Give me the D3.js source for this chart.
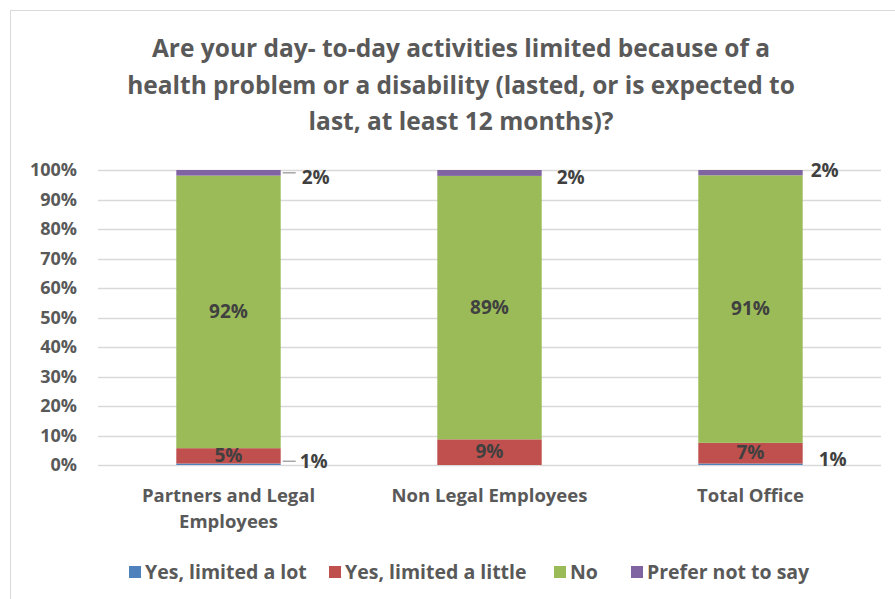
<!DOCTYPE html>
<html>
<head>
<meta charset="utf-8">
<script src="https://cdn.jsdelivr.net/npm/d3@7"></script>
<style>
  body { margin: 0; background: #fff; }
  svg text { font-family: "Open Sans", sans-serif; font-weight: bold; }
</style>
</head>
<body>
<div class="chart"></div>
<script>
var categories = ["Partners and Legal Employees", "Non Legal Employees", "Total Office"];
var seriesNames = ["Yes, limited a lot", "Yes, limited a little", "No", "Prefer not to say"];
var seriesColors = ["#4f81bd", "#c0504d", "#9bbb59", "#8064a2"];
// percent per category, one array per series
var limitedLot = [0.5, 0, 0.5];
var limitedLittle = [5.2, 8.7, 7.0];
var noLimit = [92.4, 89.3, 90.7];
var preferNot = [1.9, 2.0, 1.8];
var yTicks = [0, 10, 20, 30, 40, 50, 60, 70, 80, 90, 100];
var titleLines = ["Are your day- to-day activities limited because of a",
                  "health problem or a disability (lasted, or is expected to",
                  "last, at least 12 months)?"];

var width = 895, height = 599;
var margin = {top: 170, right: 14, bottom: 134, left: 98};

var svg = d3.select(".chart").append("svg")
    .attr("width", width)
    .attr("height", height);

// chart border
svg.append("rect")
    .attr("x", 10.5).attr("y", 10.5)
    .attr("width", width + 20).attr("height", height + 20)
    .attr("fill", "none").attr("stroke", "#d9d9d9");

svg.selectAll(".title")
    .data(titleLines)
    .enter().append("text")
    .attr("x", 461)
    .attr("y", function(d, i) { return 57 + i * 36.5; })
    .attr("text-anchor", "middle")
    .attr("font-size", 24.5)
    .attr("fill", "#595959")
    .text(function(d) { return d; });

var x = d3.scaleBand()
    .domain(categories)
    .range([margin.left, width - margin.right])
    .paddingInner(0.6)
    .paddingOuter(0.3);

var y = d3.scaleLinear()
    .domain([0, 100])
    .range([height - margin.bottom, margin.top]);

// gridlines
svg.append("g")
    .selectAll("line")
    .data(yTicks)
    .enter().append("line")
    .attr("x1", margin.left).attr("x2", width - margin.right)
    .attr("y1", function(d) { return Math.round(y(d)) + 0.5; })
    .attr("y2", function(d) { return Math.round(y(d)) + 0.5; })
    .attr("stroke", "#d9d9d9")
    .attr("stroke-width", 1.5);

var yAxis = svg.append("g")
    .attr("transform", "translate(" + margin.left + ",0)")
    .call(d3.axisLeft(y).tickValues(yTicks).tickSize(0).tickPadding(21)
        .tickFormat(function(d) { return d + "%"; }));
yAxis.select(".domain").remove();
yAxis.selectAll("text").attr("font-size", 18).attr("fill", "#595959")
    .style("font-family", "'Open Sans', sans-serif");

var seriesValues = [limitedLot, limitedLittle, noLimit, preferNot];
var rows = categories.map(function(c, i) {
    var r = {cat: c};
    seriesNames.forEach(function(s, j) { r[s] = seriesValues[j][i]; });
    return r;
});
var stacked = d3.stack().keys(seriesNames)(rows);

var layers = svg.selectAll(".layer")
    .data(stacked)
    .enter().append("g")
    .attr("fill", function(d, i) { return seriesColors[i]; });

layers.selectAll("rect")
    .data(function(d) { return d; })
    .enter().append("rect")
    .attr("x", function(d) { return x(d.data.cat); })
    .attr("width", x.bandwidth())
    .attr("y", function(d) { return y(d[1]); })
    .attr("height", function(d) { return y(d[0]) - y(d[1]); });

// outside label offsets per category (dx from bar right, dy from segment middle)
var outsideTop = [[21, 11], [15, 11], [8, 4]];
var outsideBottom = [[19, 4], [0, 0], [16, 2]];

var labels = [];
stacked.forEach(function(layer, si) {
    layer.forEach(function(d, ci) {
        var v = d[1] - d[0];
        if (v <= 0) return;
        var cx = x(d.data.cat) + x.bandwidth() / 2;
        var right = x(d.data.cat) + x.bandwidth();
        var mid = y((d[0] + d[1]) / 2);
        var t = Math.round(v) + "%";
        if (si === 1 || si === 2) {
            labels.push({x: cx, y: mid + 6, t: t, anchor: "middle"});
        } else {
            var o = si === 3 ? outsideTop[ci] : outsideBottom[ci];
            var lead = ci === 0 ? [right + 2, si === 3 ? mid : mid - 3, right + 15] : null;
            labels.push({x: right + o[0], y: mid + o[1], t: t, anchor: "start", leader: lead});
        }
    });
});

svg.selectAll(".leader")
    .data(labels.filter(function(d) { return d.leader; }))
    .enter().append("line")
    .attr("x1", function(d) { return d.leader[0]; })
    .attr("x2", function(d) { return d.leader[2]; })
    .attr("y1", function(d) { return d.leader[1]; })
    .attr("y2", function(d) { return d.leader[1]; })
    .attr("stroke", "#a6a6a6").attr("stroke-width", 1.5);

svg.selectAll(".dlabel")
    .data(labels)
    .enter().append("text")
    .attr("x", function(d) { return d.x; })
    .attr("y", function(d) { return d.y; })
    .attr("text-anchor", function(d) { return d.anchor; })
    .attr("font-size", 19)
    .attr("fill", "#404040")
    .text(function(d) { return d.t; });

// category labels, wrapped like the original
var catLines = {"Partners and Legal Employees": ["Partners and Legal", "Employees"]};
categories.forEach(function(c) {
    var lines = catLines[c] || [c];
    lines.forEach(function(l, i) {
        svg.append("text")
            .attr("x", x(c) + x.bandwidth() / 2)
            .attr("y", 502 + i * 26)
            .attr("text-anchor", "middle")
            .attr("font-size", 18.5)
            .attr("fill", "#595959")
            .text(l);
    });
});

// legend
var legendX = [129, 329, 554, 631];
var legend = svg.selectAll(".legend")
    .data(seriesNames)
    .enter().append("g")
    .attr("transform", function(d, i) { return "translate(" + legendX[i] + ",566)"; });
legend.append("rect")
    .attr("width", 12).attr("height", 12)
    .attr("fill", function(d, i) { return seriesColors[i]; });
legend.append("text")
    .attr("x", 16).attr("y", 13)
    .attr("font-size", 19.5)
    .attr("fill", "#595959")
    .text(function(d) { return d; });
</script>
</body>
</html>
